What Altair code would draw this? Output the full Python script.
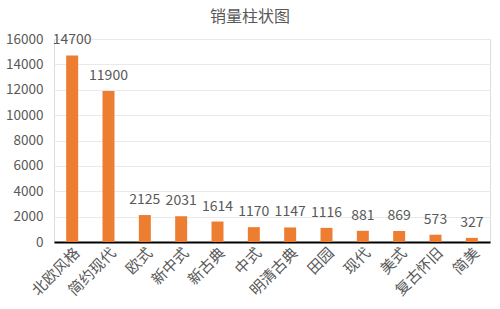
import altair as alt
import pandas as pd

categories = ["北欧风格", "简约现代", "欧式", "新中式", "新古典", "中式", "明清古典", "田园", "现代", "美式", "复古怀旧", "简美"]
sales = [14700, 11900, 2125, 2031, 1614, 1170, 1147, 1116, 881, 869, 573, 327]
y_ticks = [0, 2000, 4000, 6000, 8000, 10000, 12000, 14000, 16000]

df = pd.DataFrame({"风格": categories, "销量": sales})
FONT = "Noto Sans CJK SC"
GRAY = "#595959"

x = alt.X("风格:N", sort=categories, title=None,
          scale=alt.Scale(paddingInner=0.67, paddingOuter=0.335),
          axis=alt.Axis(labelAngle=-45, labelAlign="right", labelBaseline="top",
                        labelFontSize=15, labelColor=GRAY, labelFont=FONT,
                        ticks=False, domainColor="#000000", domainWidth=2,
                        labelPadding=3, labelOverlap=False, labelBound=False))
y = alt.Y("销量:Q", title=None,
          scale=alt.Scale(domain=[0, 16000]),
          axis=alt.Axis(values=y_ticks, format="d",
                        labelFontSize=13.5, labelColor=GRAY, labelFont=FONT,
                        ticks=False, domain=False, labelOverlap=False,
                        gridColor="#EAEAEA", labelPadding=11))

bars = alt.Chart(df).mark_bar(color="#ED7D31").encode(x=x, y=y)
text = alt.Chart(df).mark_text(dy=-15, fontSize=14, color=GRAY, font=FONT).encode(
    x=x, y=y, text=alt.Text("销量:Q", format="d"))

chart = (bars + text).properties(
    width=436, height=203,
    title=alt.TitleParams("销量柱状图", fontSize=16, color=GRAY, font=FONT,
                          fontWeight="normal", anchor="middle", offset=7, dx=-22),
    autosize=alt.AutoSizeParams(type="none"),
    padding={"left": 54, "top": 39, "right": 10, "bottom": 67},
).configure_view(stroke=None).configure_axis(labelOverlap=False).configure(background="white")

chart.save("out.html", embed_options={"renderer": "svg", "actions": False})
